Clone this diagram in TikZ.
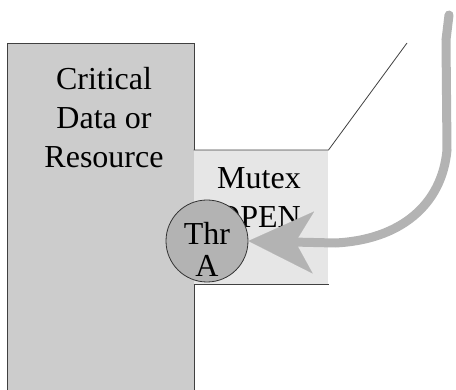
\documentclass[tikz,border=0pt]{standalone}
\usepackage{fontspec}
\setmainfont{Liberation Serif}
\usetikzlibrary{arrows.meta}

\definecolor{resgray}{HTML}{CCCCCC}
\definecolor{mutexgray}{HTML}{E6E6E6}
\definecolor{thrgray}{HTML}{B3B3B3}

\begin{document}
\begin{tikzpicture}[x=1pt, y=-1pt,
    border/.style = {draw=black!75, line width=0.8pt},
    resource/.style = {border, fill=resgray, inner sep=0, anchor=north west},
    mutex/.style = {fill=mutexgray, inner sep=0, anchor=north west},
    thread/.style = {draw=black!80, line width=0.8pt, circle, fill=thrgray, inner sep=0, minimum size=82pt},
    label text/.style = {font=\fontsize{32}{39}\selectfont, align=center, inner sep=0},
    movearrow/.style = {draw=thrgray, line width=9pt, line cap=round,
      -{Stealth[length=65pt, width=62pt, inset=18pt, line width=0.1pt, fill=thrgray, color=thrgray]}}]

      \useasboundingbox (0,0) rectangle (456,390);
      \clip (0,0) rectangle (456,390);

      \node[resource, minimum width=187pt, minimum height=360pt] (RES) at (7,43) {};
      \node[label text, anchor=north] (RES_TXT) at (104,67) {Critical\\Data or\\Resource};

      \node[mutex, minimum width=134.5pt, minimum height=134pt] (MUTEX) at (193.6,150) {};
      \node[label text, anchor=north] (MUTEX_TXT) at (259,167) {Mutex\\OPEN};

      \coordinate (LINE_END) at (407,43);
      \draw[border] (MUTEX.north west) -- (MUTEX.north east) -- (LINE_END);
      \draw[border] (MUTEX.south west) -- (MUTEX.south east);

      \node[thread] (THR_A) at (207,241) {};
      \node[label text, font=\fontsize{32}{32}\selectfont, yshift=-8pt] (THR_A_TXT) at (THR_A) {Thr\\A};

      \coordinate (ARROW_START) at (449,15);
      \draw[movearrow] (ARROW_START) -- (446,40) -- (447,150)
        .. controls (442,205) and (400,240) .. (335,243) -- (THR_A.east);

\end{tikzpicture}
\end{document}
